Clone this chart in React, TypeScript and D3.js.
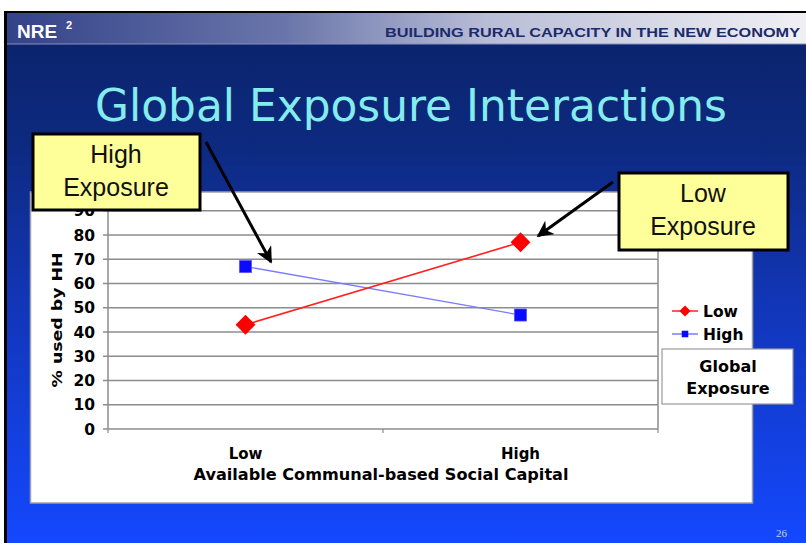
import React from "react";
import * as d3 from "d3";

const categories = ["Low", "High"];
const seriesNames = ["Low", "High"];
const lowExposure = [43, 77];
const highExposure = [67, 47];
const yTicks = [0, 10, 20, 30, 40, 50, 60, 70, 80, 90];

const W = 806;
const H = 543;

export default function App() {
  const x = d3.scaleBand<string>().domain(categories).range([108, 658]).padding(0);
  const y = d3.scaleLinear().domain([0, 100]).range([429, 186.5]);
  const cx = (c: string) => (x(c) as number) + x.bandwidth() / 2;
  const line = d3
    .line<number>()
    .x((_, i) => cx(categories[i]))
    .y((v) => y(v));
  const diamond = d3.symbol().type(d3.symbolDiamond2);
  const square = d3.symbol().type(d3.symbolSquare2);
  const sans = "'DejaVu Sans', Verdana, sans-serif";
  const arial = "'Liberation Sans', Arial, sans-serif";

  return (
    <div style={{ position: "fixed", left: 0, top: 0, width: W, height: H }}>
      <svg width={W} height={H} style={{ display: "block" }}>
        <defs>
          <linearGradient id="hdr" x1="0" x2="1" y1="0" y2="0">
            <stop offset="0" stopColor="#34428a" />
            <stop offset="0.35" stopColor="#6a76aa" />
            <stop offset="0.6" stopColor="#b8bdd6" />
            <stop offset="1" stopColor="#f0f0f4" />
          </linearGradient>
          <linearGradient id="bg" x1="0" x2="0" y1="0" y2="1">
            <stop offset="0" stopColor="#0b2268" />
            <stop offset="0.25" stopColor="#0d2a80" />
            <stop offset="0.55" stopColor="#1236b8" />
            <stop offset="1" stopColor="#1448ff" />
          </linearGradient>
          <marker id="ah" viewBox="0 0 10 10" refX="9" refY="5" markerWidth="5.5" markerHeight="5.5" orient="auto">
            <path d="M0,0 L10,5 L0,10 L3,5 z" fill="#000" />
          </marker>
        </defs>
        <rect x={0} y={0} width={W} height={H} fill="#fff" />
        <rect x={4} y={11} width={W - 4} height={H - 11} fill="#000" />
        <rect x={7} y={13} width={W - 7} height={H - 13} fill="url(#bg)" />
        <rect x={7} y={13} width={W - 7} height={31} fill="url(#hdr)" />
        <line x1={7} x2={W} y1={44} y2={44} stroke="#8890c0" strokeWidth={1} />
        <text x={17} y={38} fill="#fff" fontFamily={arial} fontWeight="bold" fontSize={19}>NRE</text>
        <text x={66} y={29} fill="#fff" fontFamily={arial} fontWeight="bold" fontSize={11}>2</text>
        <text x={800} y={37} textAnchor="end" fill="#1c2a6c" fontFamily={arial} fontWeight="bold" fontSize={12.5} textLength={415} lengthAdjust="spacingAndGlyphs">
          BUILDING RURAL CAPACITY IN THE NEW ECONOMY
        </text>
        <text x={95} y={121} fill="#84ecec" fontFamily={sans} fontSize={44} textLength={632} lengthAdjust="spacingAndGlyphs">
          Global Exposure Interactions
        </text>

        {/* chart area */}
        <rect x={30.5} y={192} width={722} height={311} fill="#fff" stroke="#a0a0a0" strokeWidth={1.5} />

        {/* gridlines */}
        {yTicks.filter((t) => t > 0).map((t) => (
          <line key={t} x1={108} x2={658} y1={y(t)} y2={y(t)} stroke="#8c8c8c" strokeWidth={1.5} />
        ))}
        {yTicks.map((t) => (
          <line key={"tk" + t} x1={103} x2={108} y1={y(t)} y2={y(t)} stroke="#8c8c8c" strokeWidth={1.5} />
        ))}
        <line x1={108} x2={108} y1={192} y2={y(0)} stroke="#8c8c8c" strokeWidth={1.5} />
        <line x1={658} x2={658} y1={192} y2={y(0)} stroke="#8c8c8c" strokeWidth={1.5} />
        <line x1={108} x2={658} y1={y(0)} y2={y(0)} stroke="#8c8c8c" strokeWidth={1.5} />
        {[108, 383, 658].map((v) => (
          <line key={"xt" + v} x1={v} x2={v} y1={y(0)} y2={y(0) + 4} stroke="#8c8c8c" strokeWidth={1.2} />
        ))}
        {yTicks.map((t) => (
          <text key={"yl" + t} x={95} y={y(t) + 5.5} textAnchor="end" fontFamily={sans} fontWeight="bold" fontSize={15.5} fill="#000">
            {t}
          </text>
        ))}
        <text
          transform={`translate(62,320) rotate(-90)`}
          textAnchor="middle"
          fontFamily={sans}
          fontWeight="bold"
          fontSize={14.5}
          fill="#000"
          textLength={135}
          lengthAdjust="spacingAndGlyphs"
        >
          % used by HH
        </text>
        {categories.map((c) => (
          <text key={"xl" + c} x={cx(c)} y={459} textAnchor="middle" fontFamily={sans} fontWeight="bold" fontSize={15} fill="#000">
            {c}
          </text>
        ))}
        <text x={381} y={480} textAnchor="middle" fontFamily={sans} fontWeight="bold" fontSize={15} fill="#000" textLength={375} lengthAdjust="spacingAndGlyphs">
          Available Communal-based Social Capital
        </text>

        {/* series */}
        <path d={line(highExposure) || ""} fill="none" stroke="#7b7bff" strokeWidth={1.3} />
        <path d={line(lowExposure) || ""} fill="none" stroke="#ff2020" strokeWidth={1.6} />
        {highExposure.map((v, i) => (
          <path key={"hs" + i} d={square.size(185)() || ""} transform={`translate(${cx(categories[i])},${y(v)})`} fill="#0a0aff" stroke="#5050ff" strokeWidth={0.8} />
        ))}
        {lowExposure.map((v, i) => (
          <path key={"ld" + i} d={diamond.size(250)() || ""} transform={`translate(${cx(categories[i])},${y(v)})`} fill="#ff0000" />
        ))}

        {/* legend */}
        {seriesNames.map((s, i) => {
          const ly = 311 + i * 23;
          const isLow = s === "Low";
          return (
            <g key={"lg" + s}>
              <line x1={672} x2={698} y1={ly} y2={ly} stroke={isLow ? "#ff2020" : "#7b7bff"} strokeWidth={1.5} />
              <path
                d={(isLow ? diamond.size(80) : square.size(55))() || ""}
                transform={`translate(685,${ly})`}
                fill={isLow ? "#ff0000" : "#0a0aff"}
              />
              <text x={703} y={ly + 5.5} fontFamily={sans} fontWeight="bold" fontSize={15.5} fill="#000">
                {s}
              </text>
            </g>
          );
        })}
        <rect x={662} y={349} width={131} height={55} fill="#fff" stroke="#9a9a9a" strokeWidth={1.2} />
        <text x={728} y={372} textAnchor="middle" fontFamily={sans} fontWeight="bold" fontSize={16} fill="#000">Global</text>
        <text x={728} y={394} textAnchor="middle" fontFamily={sans} fontWeight="bold" fontSize={16} fill="#000">Exposure</text>

        {/* callouts */}
        <rect x={33} y={134} width={167} height={76} fill="#ffff99" stroke="#000" strokeWidth={3} />
        <text x={116} y={163} textAnchor="middle" fontFamily={arial} fontSize={25} fill="#111">High</text>
        <text x={116} y={196} textAnchor="middle" fontFamily={arial} fontSize={25} fill="#111">Exposure</text>
        <line x1={206} y1={142} x2={271} y2={262} stroke="#000" strokeWidth={3} markerEnd="url(#ah)" />

        <rect x={619} y={173} width={169} height={77} fill="#ffff99" stroke="#000" strokeWidth={3} />
        <text x={703} y={202} textAnchor="middle" fontFamily={arial} fontSize={25} fill="#111">Low</text>
        <text x={703} y={235} textAnchor="middle" fontFamily={arial} fontSize={25} fill="#111">Exposure</text>
        <line x1={613} y1={182} x2={538} y2={236} stroke="#000" strokeWidth={3} markerEnd="url(#ah)" />

        <text x={776} y={537} fontFamily="'Liberation Serif', serif" fontSize={11} fill="#c8d0ff">26</text>
      </svg>
    </div>
  );
}
